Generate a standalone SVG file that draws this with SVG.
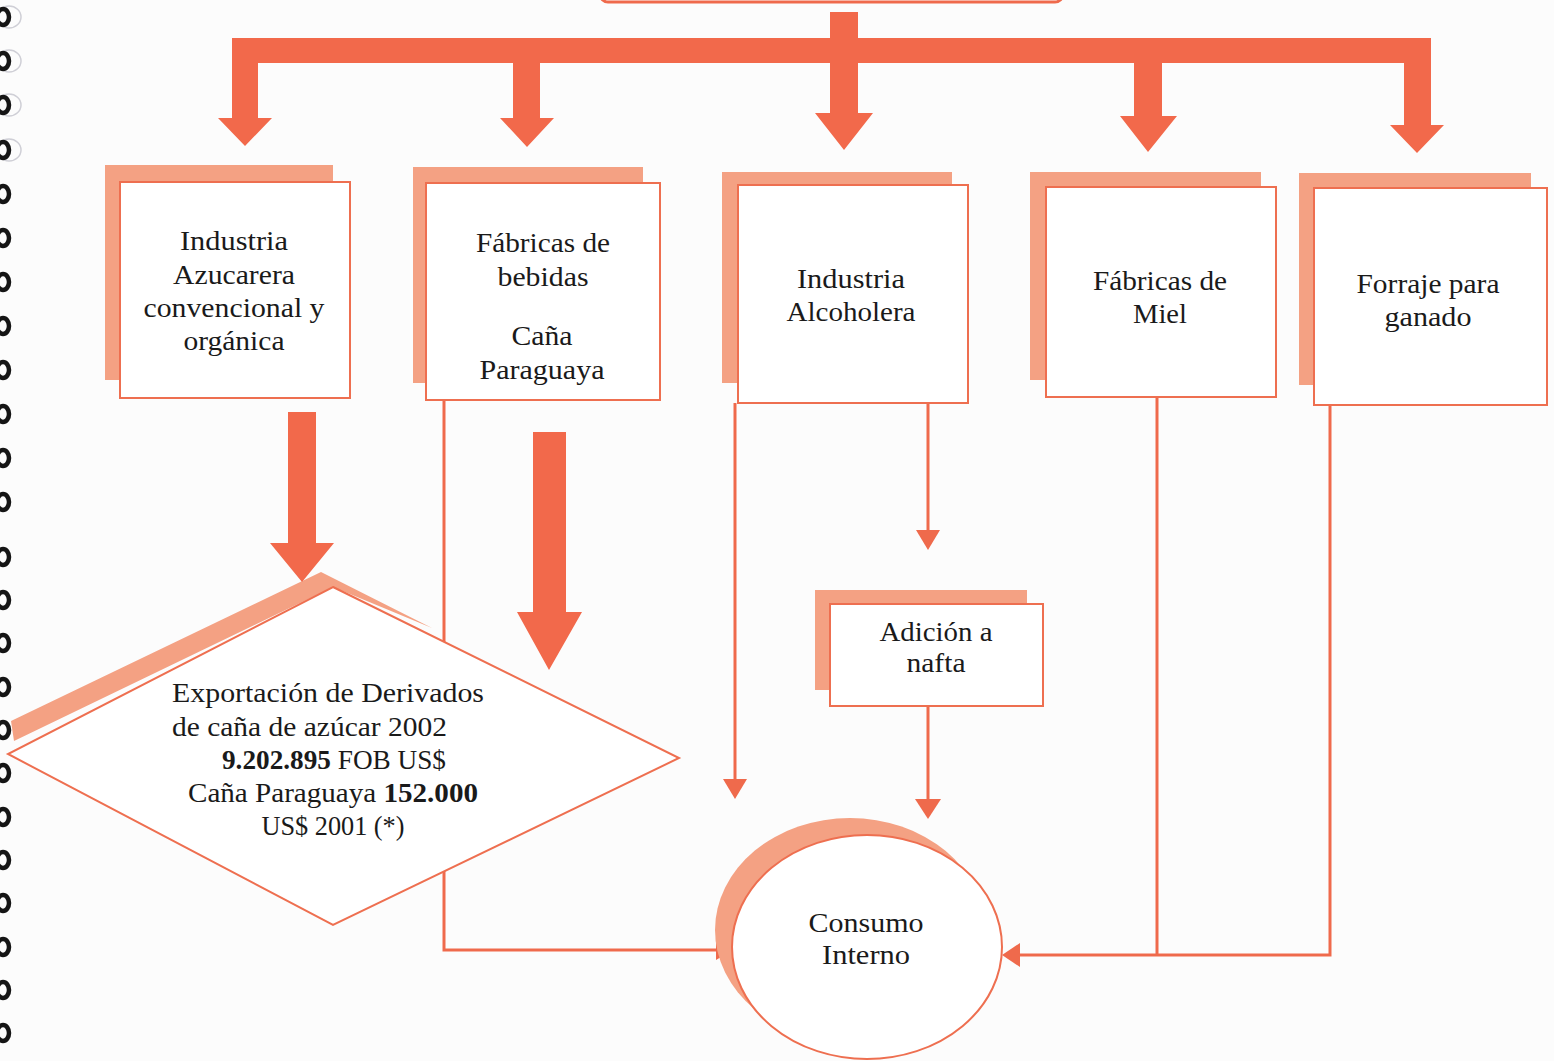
<svg xmlns="http://www.w3.org/2000/svg" width="1554" height="1061" viewBox="0 0 1554 1061">
<style>
.bg{fill:#fcfcfc}
.thick{fill:#f2694b}
.sh{fill:#f4a183}
.box{fill:#ffffff;stroke:#ee6f50;stroke-width:2}
.ln{fill:none;stroke:#ef6a4c;stroke-width:3}
.hd{fill:#ef6a4c}
.t{font-family:"Liberation Serif","Times New Roman",serif;font-size:28px;fill:#1a1a1a;text-anchor:middle}
.tl{font-family:"Liberation Serif","Times New Roman",serif;font-size:28px;fill:#1a1a1a}
.b{font-weight:bold}
.ring{fill:none;stroke:#151515;stroke-width:4.5}
.ring2{fill:none;stroke:#cfcfd6;stroke-width:1.5}
</style>
<rect class="bg" x="0" y="0" width="1554" height="1061"/>

<g id="binding">
<ellipse class="ring2" cx="9" cy="17" rx="12" ry="11"/><ellipse class="ring" cx="3" cy="17" rx="6" ry="8"/>
<ellipse class="ring2" cx="9" cy="61" rx="12" ry="11"/><ellipse class="ring" cx="3" cy="61" rx="6" ry="8"/>
<ellipse class="ring2" cx="9" cy="105" rx="12" ry="11"/><ellipse class="ring" cx="3" cy="105" rx="6" ry="8"/>
<ellipse class="ring2" cx="9" cy="150" rx="12" ry="11"/><ellipse class="ring" cx="3" cy="150" rx="6" ry="8"/>
<ellipse class="ring" cx="3" cy="194" rx="6" ry="8"/>
<ellipse class="ring" cx="3" cy="238" rx="6" ry="8"/>
<ellipse class="ring" cx="3" cy="282" rx="6" ry="8"/>
<ellipse class="ring" cx="3" cy="326" rx="6" ry="8"/>
<ellipse class="ring" cx="3" cy="370" rx="6" ry="8"/>
<ellipse class="ring" cx="3" cy="414" rx="6" ry="8"/>
<ellipse class="ring" cx="3" cy="458" rx="6" ry="8"/>
<ellipse class="ring" cx="3" cy="502" rx="6" ry="8"/>
<ellipse class="ring" cx="3" cy="557" rx="6" ry="8"/>
<ellipse class="ring" cx="3" cy="600" rx="6" ry="8"/>
<ellipse class="ring" cx="3" cy="643" rx="6" ry="8"/>
<ellipse class="ring" cx="3" cy="687" rx="6" ry="8"/>
<ellipse class="ring" cx="3" cy="730" rx="6" ry="8"/>
<ellipse class="ring" cx="3" cy="773" rx="6" ry="8"/>
<ellipse class="ring" cx="3" cy="817" rx="6" ry="8"/>
<ellipse class="ring" cx="3" cy="860" rx="6" ry="8"/>
<ellipse class="ring" cx="3" cy="903" rx="6" ry="8"/>
<ellipse class="ring" cx="3" cy="947" rx="6" ry="8"/>
<ellipse class="ring" cx="3" cy="990" rx="6" ry="8"/>
<ellipse class="ring" cx="3" cy="1033" rx="6" ry="8"/>
</g>

<g id="top-box">
<rect x="600" y="-40" width="463" height="42" rx="8" fill="#ffffff" stroke="#ef6a4c" stroke-width="3"/>
</g>

<g id="connectors">
<path class="thick" d="M232,38 H1431 V125 H1444 L1417,153 L1390,125 H1404 V63 H1162 V116 H1177 L1148,152 L1120,116 H1134 V63 H858 V113 H873 L844,150 L815,113 H830 V63 H540 V118 H554 L527,147 L500,118 H513 V63 H258 V118 H272 L245,146 L218,118 H232 Z"/>
<rect class="thick" x="830" y="12" width="28" height="30"/>
<path class="ln" d="M444,400 V950 H718"/>
<path class="hd" d="M733,950 L716,940 L716,960 Z"/>
<path class="ln" d="M735,403 V782"/>
<path class="hd" d="M735,799 L723,779 L747,779 Z"/>
<path class="ln" d="M928,403 V532"/>
<path class="hd" d="M928,550 L916,530 L940,530 Z"/>
<path class="ln" d="M928,706 V802"/>
<path class="hd" d="M928,819 L915,799 L941,799 Z"/>
<path class="ln" d="M1157,397 V955"/>
<path class="ln" d="M1330,405 V955 H1018"/>
<path class="hd" d="M1002,955 L1020,943 L1020,967 Z"/>
</g>

<g id="n1">
<rect class="sh" x="105" y="165" width="228" height="215"/>
<rect class="box" x="120" y="182" width="230" height="216"/>
<text class="t" x="234" y="250" textLength="108" lengthAdjust="spacingAndGlyphs">Industria</text>
<text class="t" x="234" y="284" textLength="122" lengthAdjust="spacingAndGlyphs">Azucarera</text>
<text class="t" x="234" y="317" textLength="181" lengthAdjust="spacingAndGlyphs">convencional y</text>
<text class="t" x="234" y="350" textLength="101" lengthAdjust="spacingAndGlyphs">orgánica</text>
</g>

<g id="n2">
<rect class="sh" x="413" y="167" width="230" height="216"/>
<rect class="box" x="426" y="183" width="234" height="217"/>
<text class="t" x="543" y="252" textLength="134" lengthAdjust="spacingAndGlyphs">Fábricas de</text>
<text class="t" x="543" y="286" textLength="91" lengthAdjust="spacingAndGlyphs">bebidas</text>
<text class="t" x="542" y="345" textLength="61" lengthAdjust="spacingAndGlyphs">Caña</text>
<text class="t" x="542" y="379" textLength="125" lengthAdjust="spacingAndGlyphs">Paraguaya</text>
</g>

<g id="n3">
<rect class="sh" x="722" y="172" width="230" height="211"/>
<rect class="box" x="738" y="185" width="230" height="218"/>
<text class="t" x="851" y="288" textLength="108" lengthAdjust="spacingAndGlyphs">Industria</text>
<text class="t" x="851" y="321" textLength="129" lengthAdjust="spacingAndGlyphs">Alcoholera</text>
</g>

<g id="n4">
<rect class="sh" x="1030" y="172" width="231" height="208"/>
<rect class="box" x="1046" y="187" width="230" height="210"/>
<text class="t" x="1160" y="290" textLength="134" lengthAdjust="spacingAndGlyphs">Fábricas de</text>
<text class="t" x="1160" y="323" textLength="54" lengthAdjust="spacingAndGlyphs">Miel</text>
</g>

<g id="n5">
<rect class="sh" x="1299" y="173" width="232" height="212"/>
<rect class="box" x="1314" y="188" width="233" height="217"/>
<text class="t" x="1428" y="293" textLength="143" lengthAdjust="spacingAndGlyphs">Forraje para</text>
<text class="t" x="1428" y="326" textLength="87" lengthAdjust="spacingAndGlyphs">ganado</text>
</g>

<g id="n6">
<rect class="sh" x="815" y="590" width="212" height="100"/>
<rect class="box" x="830" y="604" width="213" height="102"/>
<text class="t" x="936" y="641" textLength="113" lengthAdjust="spacingAndGlyphs">Adición a</text>
<text class="t" x="936" y="672" textLength="59" lengthAdjust="spacingAndGlyphs">nafta</text>
</g>

<g id="n7">
<polygon class="sh" points="11,721 321,572 432,628 333,587 14,741"/>
<polygon class="box" points="333,587 679,758 333,925 8,754"/>
<text class="tl" x="172" y="702" textLength="312" lengthAdjust="spacingAndGlyphs">Exportación de Derivados</text>
<text class="tl" x="172" y="736" textLength="275" lengthAdjust="spacingAndGlyphs">de caña de azúcar 2002</text>
<text class="t" x="334" y="769" textLength="224" lengthAdjust="spacingAndGlyphs"><tspan class="b">9.202.895</tspan> FOB US$</text>
<text class="t" x="333" y="802" textLength="290" lengthAdjust="spacingAndGlyphs">Caña Paraguaya <tspan class="b">152.000</tspan></text>
<text class="t" x="333" y="835" textLength="143" lengthAdjust="spacingAndGlyphs">US$ 2001 (*)</text>
</g>

<g id="n8">
<ellipse class="sh" cx="850" cy="930" rx="135" ry="112"/>
<ellipse class="box" cx="867" cy="947" rx="135" ry="112"/>
<text class="t" x="866" y="932" textLength="115" lengthAdjust="spacingAndGlyphs">Consumo</text>
<text class="t" x="866" y="964" textLength="88" lengthAdjust="spacingAndGlyphs">Interno</text>
</g>

<g id="big-arrows">
<path class="thick" d="M288,412 H316 V543 H334 L302,582 L270,543 H288 Z"/>
<path class="thick" d="M533,432 H566 V612 H582 L549,670 L517,612 H533 Z"/>
</g>
</svg>
